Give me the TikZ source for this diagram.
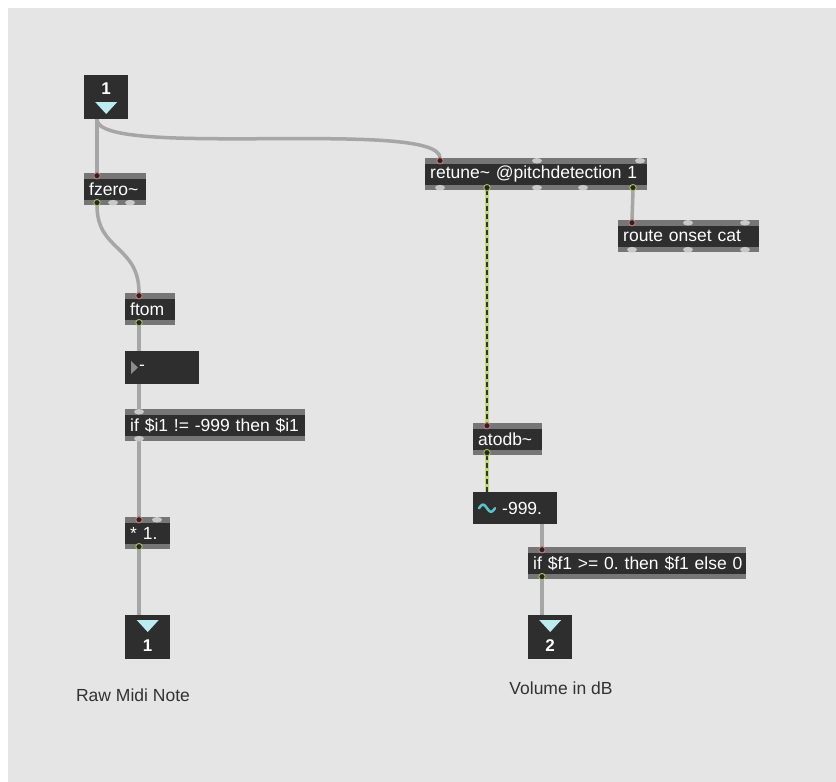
\documentclass[tikz,border=0pt]{standalone}
\usepackage{fontspec}
\setmainfont{Liberation Sans}
\usetikzlibrary{positioning}
\usetikzlibrary{calc}

\definecolor{patchbg}{RGB}{229,229,229}
\definecolor{boxdark}{RGB}{46,46,46}
\definecolor{stripgray}{RGB}{118,118,118}
\definecolor{bumpgray}{RGB}{200,200,200}
\definecolor{cablegray}{RGB}{166,166,166}
\definecolor{ioarrow}{RGB}{186,236,240}
\definecolor{inrim}{RGB}{214,120,120}
\definecolor{outrim}{RGB}{168,196,96}
\definecolor{sigline}{RGB}{190,220,110}
\definecolor{sigcyan}{RGB}{88,196,206}
\definecolor{commentgray}{RGB}{50,50,50}

\frenchspacing

\begin{document}
\begin{tikzpicture}[x=1pt, y=-1pt,
    objbox/.style={rectangle, fill=boxdark, anchor=north west, minimum height=32pt,
      inner xsep=5pt, inner ysep=0pt, text=white, align=left, text width=#1,
      font=\fontsize{17.5}{20}\selectfont,
      path picture={
        \fill[stripgray] (path picture bounding box.north west) rectangle ([yshift=-5.5pt]path picture bounding box.north east);
        \fill[stripgray] (path picture bounding box.south west) rectangle ([yshift=5.5pt]path picture bounding box.south east);
      }},
    iobox/.style={rectangle, fill=boxdark, anchor=north west, minimum width=44pt, minimum height=44pt, inner sep=0pt},
    numbox/.style={rectangle, fill=boxdark, anchor=north west, minimum height=33pt, inner sep=0pt},
    ionum/.style={text=white, font=\fontsize{17}{20}\selectfont\bfseries, inner sep=0pt},
    patchtext/.style={text=white, font=\fontsize{17.5}{20}\selectfont, inner sep=0pt},
    patchcomment/.style={text=commentgray, font=\fontsize{17.5}{20}\selectfont, inner sep=0pt},
    cable/.style={draw=cablegray, line width=3.5pt},
    sigcable/.style={draw=black!80, line width=2pt, dash pattern=on 5pt off 3pt,
      preaction={draw=sigline, line width=3.5pt, solid}},
    portbump/.style={fill=bumpgray},
    inport/.style={fill=black!85, draw=inrim, line width=0.9pt},
    outport/.style={fill=black!85, draw=outrim, line width=0.9pt}]

  % patcher background
  \fill[white] (0,0) rectangle (836,782);
  \fill[patchbg] (8,8) rectangle (836,782);
  \useasboundingbox (0,0) rectangle (836,782);

  % left chain
  \node[iobox] (in1) at (84,75) {};
  \node[objbox=52pt] (fzero) at (84,173) {fzero\textasciitilde};
  \node[objbox=40pt] (ftom) at (125,293) {ftom};
  \node[numbox, minimum width=74pt] (num) at (125,351) {};
  \node[objbox=170pt] (ifi) at (125,409) {if \$i1 != -999 then \$i1};
  \node[objbox=35pt] (mul) at (125,517) {* 1.};
  \node[iobox, minimum width=45pt] (out1) at (125,615) {};

  % right chain
  \node[objbox=212pt] (retune) at (425,158) {retune\textasciitilde{} @pitchdetection 1};
  \node[objbox=131pt] (route) at (618,220) {route onset cat};
  \node[objbox=59pt] (atodb) at (473,423) {atodb\textasciitilde};
  \node[numbox, minimum width=84pt, minimum height=32pt] (signum) at (473,492) {};
  \node[objbox=208pt] (iff) at (528,547) {\mbox{if \$f1 >= 0. then \$f1 else 0}};
  \node[iobox] (out2) at (528,615) {};

  % inlet / outlet marks
  \fill[ioarrow] ([xshift=-11pt,yshift=-27pt]in1.north) -- ([xshift=11pt,yshift=-27pt]in1.north) -- ([yshift=-39pt]in1.north) -- cycle;
  \node[ionum] (in1num) at ([yshift=-14pt]in1.north) {1};
  \fill[ioarrow] ([xshift=-11pt,yshift=-5pt]out1.north) -- ([xshift=11pt,yshift=-5pt]out1.north) -- ([yshift=-17pt]out1.north) -- cycle;
  \node[ionum] (out1num) at ([yshift=-31pt]out1.north) {1};
  \fill[ioarrow] ([xshift=-11pt,yshift=-5pt]out2.north) -- ([xshift=11pt,yshift=-5pt]out2.north) -- ([yshift=-17pt]out2.north) -- cycle;
  \node[ionum] (out2num) at ([yshift=-31pt]out2.north) {2};

  % number boxes
  \fill[black!45] ([xshift=6pt,yshift=-10pt]num.north west) -- ([xshift=6pt,yshift=-23pt]num.north west) -- ([xshift=13pt,yshift=-16.5pt]num.north west) -- cycle;
  \node[patchtext, anchor=west] (numval) at ([xshift=14pt]num.west) {-};
  \draw[sigcyan, line width=2.5pt, line cap=round, shift={(signum.west)}]
    plot[domain=0:360, samples=40] ({6+\x/360*16}, {-3.5*sin(\x)});
  \node[patchtext, anchor=west] (sigval) at ([xshift=29pt]signum.west) {-999.};

  % comments
  \node[patchcomment] (rawlbl) at (133,695) {Raw Midi Note};
  \node[patchcomment] (vollbl) at (561,688) {Volume in dB};

  % patch cords
  \draw[cable] ([xshift=13pt]in1.south west) -- ([xshift=13pt]fzero.north west);
  \draw[cable] ([xshift=13pt]in1.south west) .. controls +(0,40) and +(0,-40) .. ([xshift=15pt]retune.north west);
  \draw[cable] ([xshift=13pt]fzero.south west) .. controls +(0,46) and +(0,-48) .. ([xshift=14pt]ftom.north west);
  \draw[cable] ([xshift=14pt]ftom.south west) -- ([xshift=14pt]num.north west);
  \draw[cable] ([xshift=14pt]num.south west) -- ([xshift=14pt]ifi.north west);
  \draw[cable] ([xshift=14pt]ifi.south west) -- ([xshift=14pt]mul.north west);
  \draw[cable] ([xshift=14pt]mul.south west) -- ([xshift=14pt]out1.north west);
  \draw[sigcable] ([xshift=62pt]retune.south west) -- ([xshift=14pt]atodb.north west);
  \draw[cable] ([xshift=208pt]retune.south west) -- ([xshift=14pt]route.north west);
  \draw[sigcable] ([xshift=14pt]atodb.south west) -- ([xshift=14pt]signum.north west);
  \draw[cable] ([xshift=69pt]signum.south west) -- ([xshift=14pt]iff.north west);
  \draw[cable] ([xshift=14pt]iff.south west) -- ([xshift=14pt]out2.north west);

  % free inlets and outlets
  \foreach \n/\dx in {retune/112, retune/215, route/70, route/127, mul/32, ifi/14}
    \fill[portbump] ([xshift=\dx pt, yshift=-2.75pt]\n.north west) ellipse (5pt and 2.75pt);
  \foreach \n/\dx in {fzero/29, fzero/46, retune/15, retune/112, retune/158, route/14, route/70, route/127, ifi/14}
    \fill[portbump] ([xshift=\dx pt, yshift=2.75pt]\n.south west) ellipse (5pt and 2.75pt);

  % connected inlets and outlets
  \foreach \n/\dx in {fzero/13, retune/15, route/14, ftom/14, mul/14, atodb/14, iff/14}
    \filldraw[inport] ([xshift=\dx pt, yshift=-2.75pt]\n.north west) circle (3.2pt);
  \foreach \n/\dx in {fzero/13, retune/62, retune/208, ftom/14, mul/14, atodb/14, iff/14}
    \filldraw[outport] ([xshift=\dx pt, yshift=2.75pt]\n.south west) circle (3.2pt);
\end{tikzpicture}
\end{document}
